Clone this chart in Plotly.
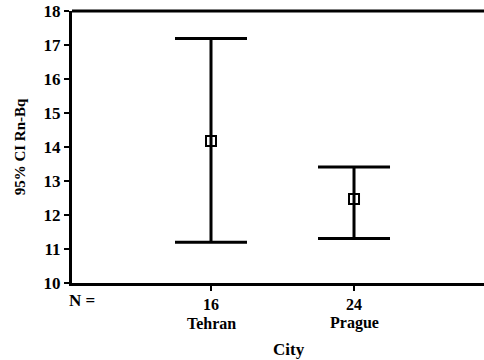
import plotly.graph_objects as go

cities = ["Tehran", "Prague"]
n_values = [16, 24]
means = [14.18, 12.47]
upper = [17.19, 13.41]
lower = [11.20, 11.31]
y_ticks = [10, 11, 12, 13, 14, 15, 16, 17, 18]

xpos = [1, 2]
err_plus = [u - m for u, m in zip(upper, means)]
err_minus = [m - l for m, l in zip(means, lower)]

font_fam = "Liberation Serif"

fig = go.Figure()
fig.add_trace(go.Scatter(
    x=xpos, y=means, mode="markers",
    marker=dict(symbol="square-open", size=10, color="black", line=dict(width=2, color="black")),
    error_y=dict(type="data", symmetric=False, array=err_plus, arrayminus=err_minus,
                 color="black", thickness=3, width=36),
    showlegend=False,
))

annotations = [
    dict(text="<b>N =</b>", xref="paper", yref="paper", x=-0.012, y=-0.066, xanchor="left", yanchor="middle",
         showarrow=False, font=dict(size=17, family=font_fam)),
    dict(text="<b>City</b>", xref="paper", yref="paper", x=0.527, y=-0.246, xanchor="center", yanchor="middle",
         showarrow=False, font=dict(size=17, family=font_fam)),
]
for xp, c in zip(xpos, cities):
    annotations.append(dict(text=f"<b>{c}</b>", x=xp, xref="x", yref="paper", y=-0.148,
                            xanchor="center", yanchor="middle", showarrow=False,
                            font=dict(size=16, family=font_fam)))

fig.update_layout(
    width=484, height=360,
    margin=dict(l=72, r=0, t=11, b=77),
    paper_bgcolor="white", plot_bgcolor="white",
    font=dict(family=font_fam, color="black"),
    xaxis=dict(range=[0.028, 2.909], tickvals=xpos, ticktext=[f"<b>{n}</b>" for n in n_values],
               automargin=False,
               showline=True, linecolor="black", linewidth=3,
               ticks="outside", ticklen=5, tickwidth=2, tickcolor="black",
               showgrid=False, zeroline=False, tickfont=dict(size=16, family=font_fam)),
    yaxis=dict(range=[10, 18], tickvals=y_ticks, automargin=False, ticklabeloverflow="allow",
               ticktext=[f"<b>{v}</b>" for v in y_ticks],
               showline=True, linecolor="black", linewidth=3,
               ticks="outside", ticklen=5, tickwidth=2, tickcolor="black",
               showgrid=False, zeroline=False, tickfont=dict(size=17, family=font_fam),
               title=dict(text="<b>95% CI Rn-Bq</b>", font=dict(size=15, family=font_fam), standoff=15)),
    shapes=[dict(type="line", xref="paper", yref="paper", x0=0, x1=1, y0=1, y1=1,
                 line=dict(color="black", width=3))],
    annotations=annotations,
)

fig.write_html("out.html", config={"displayModeBar": False},
               post_script="document.body.style.margin='0';")
